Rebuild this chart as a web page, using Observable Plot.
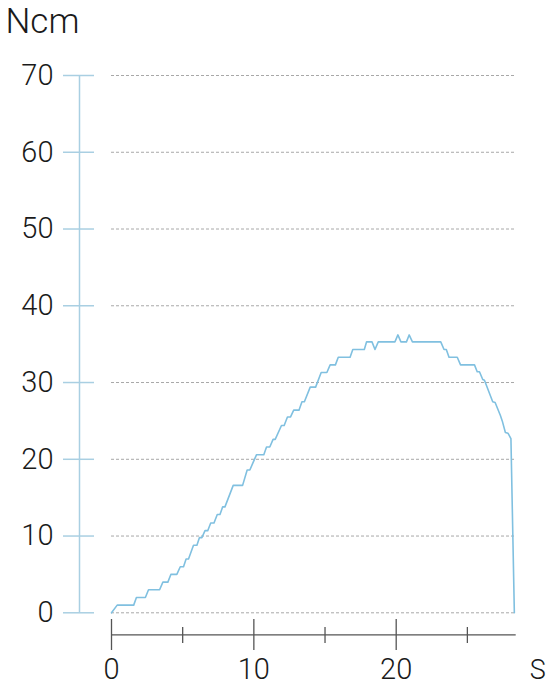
<!DOCTYPE html>
<html>
<head>
<meta charset="utf-8">
<script src="https://cdn.jsdelivr.net/npm/d3@7"></script>
<script src="https://cdn.jsdelivr.net/npm/@observablehq/plot@0.6"></script>
<style>
  html, body { margin: 0; padding: 0; background: #fff; }
  #chart svg { display: block; }
</style>
</head>
<body>
<div id="chart"></div>
<script>
const timeS = [0, 0.4, 1.56, 1.75, 2.38, 2.6, 3.38, 3.61, 3.96, 4.17, 4.59, 4.83, 5.06, 5.24, 5.41, 5.76, 6.0, 6.18, 6.35, 6.57, 6.76, 6.97, 7.2, 7.43, 7.62, 7.81, 7.97, 8.55, 9.21, 9.53, 9.72, 9.95, 10.19, 10.7, 10.89, 11.12, 11.35, 11.5, 11.94, 12.13, 12.36, 12.57, 12.8, 13.17, 13.38, 13.55, 13.96, 14.34, 14.73, 15.13, 15.36, 15.73, 15.93, 16.76, 16.95, 17.76, 17.92, 18.3, 18.51, 18.74, 19.91, 20.12, 20.33, 20.72, 20.91, 21.14, 23.13, 23.36, 23.52, 23.71, 24.29, 24.52, 25.5, 25.69, 25.85, 26.08, 26.2, 26.78, 26.95, 27.32, 27.45, 27.67, 27.85, 28.06, 28.3];
const torqueNcm = [0, 1, 1, 2, 2, 3, 3, 4, 4, 5, 5, 6, 6, 7, 7, 8.8, 8.8, 9.8, 9.8, 10.7, 10.7, 11.7, 11.7, 12.8, 12.8, 13.8, 13.8, 16.6, 16.6, 18.6, 18.6, 19.6, 20.6, 20.6, 21.6, 21.6, 22.6, 22.6, 24.4, 24.4, 25.5, 25.5, 26.4, 26.4, 27.5, 27.5, 29.4, 29.4, 31.3, 31.3, 32.3, 32.3, 33.3, 33.3, 34.3, 34.3, 35.3, 35.3, 34.3, 35.3, 35.3, 36.2, 35.3, 35.3, 36.2, 35.3, 35.3, 34.3, 34.3, 33.3, 33.3, 32.3, 32.3, 31.4, 31.4, 30.4, 30.3, 27.5, 27.4, 25.7, 25, 23.5, 23.4, 22.7, 0];
const yTicks = [0, 10, 20, 30, 40, 50, 60, 70];
const xMajorTicks = [0, 10, 20];
const xMinorTicks = [5, 15, 25];
const yUnit = "Ncm";
const xUnit = "S";

const data = timeS.map((t, i) => ({t, v: torqueNcm[i]}));

const font = "Roboto, 'Liberation Sans', sans-serif";
const lineColor = "#80c0e0";
const axisBlue = "#a9cfe2";

const chart = Plot.plot({
  width: 550,
  height: 686,
  marginLeft: 111,
  marginRight: 34.3,
  marginTop: 75,
  marginBottom: 73.7,
  style: {fontFamily: font, fontWeight: 300, background: "#fff"},
  x: {domain: [0, 28.43], axis: null},
  y: {domain: [0, 70], axis: null},
  marks: [
    Plot.gridY(yTicks, {stroke: "#a8a8a8", strokeOpacity: 1, strokeDasharray: "3 2", strokeWidth: 1}),
    Plot.ruleX([0], {y1: 0, y2: 70, dx: -32, stroke: axisBlue, strokeWidth: 1.5}),
    Plot.axisY(yTicks, {tickSize: 31, dx: -17, tickPadding: 10, stroke: axisBlue, strokeWidth: 1.5, fill: "#1a1a1a", fontSize: 29, fontWeight: 300, label: null}),
    Plot.ruleY([0], {dy: 22, stroke: "#555", strokeWidth: 1.3}),
    Plot.axisX(xMajorTicks, {tickSize: 31, dy: 6.7, tickPadding: 8, stroke: "#555", strokeWidth: 1.3, fill: "#1a1a1a", fontSize: 29, fontWeight: 300, label: null}),
    Plot.axisX(xMinorTicks, {tickSize: 16, dy: 14.7, stroke: "#555", strokeWidth: 1.3, tickFormat: () => "", label: null}),
    Plot.line(data, {x: "t", y: "v", stroke: lineColor, strokeWidth: 1.6, curve: "linear"}),
    Plot.text([yUnit], {frameAnchor: "top-left", dx: -106, dy: -67, lineAnchor: "top", textAnchor: "start", fontSize: 35, fontWeight: 300, fill: "#1a1a1a"}),
    Plot.text([xUnit], {frameAnchor: "bottom-right", dx: 21.5, dy: 66.5, lineAnchor: "bottom", textAnchor: "middle", fontSize: 27, fontWeight: 300, fill: "#1a1a1a"})
  ]
});
document.getElementById("chart").appendChild(chart);
</script>
</body>
</html>
